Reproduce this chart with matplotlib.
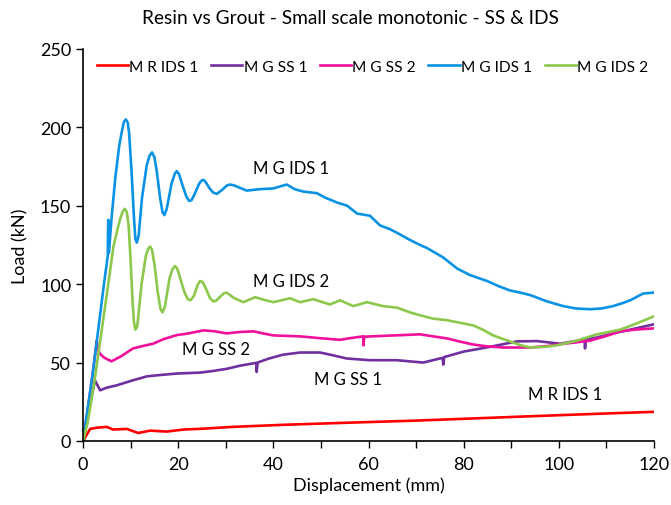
import matplotlib
matplotlib.use('Agg')
import matplotlib.pyplot as plt
from matplotlib.ticker import MultipleLocator

plt.rcParams['font.family'] = ['Lato', 'DejaVu Sans']

# 
# Series (displacement mm, load kN)
mr_ids1_x = [0, 1.5, 3, 5, 6.3, 9.2, 11.6, 14.1, 17.6, 21.1, 25, 31.5, 42, 54, 70, 90, 105, 120]
mr_ids1_y = [0, 7.7, 8.5, 9, 7.3, 7.7, 5.1, 6.6, 6, 7.3, 7.8, 9, 10.3, 11.5, 13, 15.3, 17, 18.6]

mg_ss1_x = [0, 1, 2.5, 3.6, 5, 7.1, 10.5, 13.4, 16, 19.7, 24.6, 27, 30.2, 33, 36.4, 36.5, 36.7, 39, 42,
            45.6, 49.8, 52, 55.4, 60.3, 65.9, 71.5, 75, 75.6, 75.7, 75.9, 80, 85.5, 91.2, 95.4, 100.3,
            103, 105.4, 105.5, 105.7, 108, 111.4, 115, 120]
mg_ss1_y = [0, 16, 38.7, 32.3, 34, 35.5, 38.7, 41.2, 42, 43, 43.6, 44.5, 46, 48, 49.8, 44, 50, 52.5, 55,
            56.4, 56.4, 55, 52.6, 51.5, 51.5, 50, 52.6, 53, 48.7, 53.5, 57, 60, 63.5, 63.7, 62,
            63.5, 64.3, 59, 64.8, 66, 68.6, 71, 74.4]

mg_ss2_x = [0, 1, 2, 2.9, 3.2, 3.6, 4.5, 6, 8, 10.5, 12.5, 14.7, 17, 19.7, 22, 25.3, 27.5, 30.2, 33,
            35.8, 38, 40, 45.6, 50, 54, 56, 58.9, 58.95, 59.1, 63, 67, 70.8, 74, 76.5, 79, 82, 85,
            88.3, 94, 97.5, 101, 104, 106.6, 110, 112.9, 116, 120]
mg_ss2_y = [0, 20, 42, 64, 58, 55.5, 53, 50.8, 54, 59, 60.5, 62, 65, 67.5, 68.5, 70.5, 70, 68.6, 69.5,
            69.9, 68.5, 67.3, 66.7, 65.5, 64.5, 65.5, 66.7, 61, 66.5, 67, 67.5, 68, 66.5, 65.4, 63.5,
            61.5, 60.3, 59.6, 59.6, 60.5, 62, 63, 64, 67, 69.9, 71, 71.8]

mg_ids1_x = [0, 2, 4.4, 5.2, 5.3, 5.45, 6.0, 6.8, 7.6, 8.2, 8.6, 9.0, 9.4, 9.7, 10.2, 10.7, 11.0,
             11.3, 11.7, 12.4, 13.4, 14.0, 14.5, 15.0, 15.5, 16.2, 16.7, 17.1, 17.6, 18.6, 19.3,
             19.7, 20.2, 20.8, 21.7, 22.3, 22.8, 23.4, 24.4, 24.9, 25.3, 25.8, 26.5, 27.3, 28.1,
             29.2, 30.2, 30.9, 31.7, 32.5, 34.4, 37, 40, 42.8, 44.5, 46.3, 49.1, 51, 53.4,
             55.5, 57.6, 60.3, 62.4, 64.5, 66, 68.5, 70.8, 72.3, 75.7, 78.6, 81.3, 84.9, 87.5,
             89.7, 92, 94, 97.5, 100.9, 103.5, 106.6, 109, 111.4, 113.5, 115, 117.7, 120]
mg_ids1_y = [0, 42, 100, 118, 141, 120, 142, 168, 188, 198, 203.5, 205, 203, 196, 172, 143, 129,
             126.5, 131, 155, 176, 182, 184, 181, 172, 155, 146, 144, 148, 164, 170.5,
             172, 170, 164, 156, 153, 153.5, 157, 164, 166, 166.5, 165, 161.5, 158.5, 157.5,
             160, 162.8, 163.5, 163, 162, 159.6, 160.5, 161, 163.5, 160.5, 159, 158, 155, 152,
             150, 145, 143.6, 137.5, 135, 132.7, 128.5, 125, 123, 117, 110, 105.8, 102, 98.5,
             96, 94.5, 93, 89, 86, 84.5, 84, 84.5, 86, 88, 89.7, 94, 94.6]

mg_ids2_x = [0, 1, 2.5, 4, 5.3, 6.4, 7.4, 7.9, 8.4, 8.8, 9.2, 9.6, 10, 10.4, 10.7, 11.0, 11.4,
             12.3, 13.2, 13.7, 14.1, 14.5, 15.0, 15.7, 16.3, 16.7, 17.2, 18.2, 18.8, 19.3, 19.8,
             20.5, 21.3, 22.0, 22.6, 23.3, 24.1, 24.6, 25.1, 25.7, 26.7, 27.4, 28.0, 29, 29.7,
             30.2, 31.8, 33.7, 36.2, 38, 40, 43.5, 45.6, 48.4, 51.9, 54, 56.8, 59.7, 63, 66, 68.7,
             71, 73.6, 76.5, 79, 82, 84, 86.2, 89.7, 92, 94, 97, 99.6, 103.8, 108, 112.9, 116.4, 120]
mg_ids2_y = [0, 12, 40, 72, 100, 124, 137, 142.5, 146.5, 148, 146, 137, 115, 90, 76, 71, 73,
             100, 118, 122.5, 124, 122, 113, 95, 84, 82, 85.5, 104, 109.5, 111.5, 110,
             103, 95, 90.5, 89.7, 92.5, 99.5, 102, 101.5, 98, 91, 89, 89.5, 92.5, 94.3,
             94.6, 91, 88.5, 91.7, 90, 88.5, 91, 88.5, 90.4, 87, 89.7, 86, 88.5, 86, 85, 82,
             80, 78, 77, 75.5, 73.7, 71, 67.3, 63.5, 61, 59.6, 60, 61, 64, 68, 71, 75, 79.5]

series_names = ['M R IDS 1', 'M G SS 1', 'M G SS 2', 'M G IDS 1', 'M G IDS 2']
series_colors = ['#FF0000', '#7030A0', '#F0109C', '#0A93E4', '#8CC84B']

# 
# Figure
fig = plt.figure(figsize=(6.71, 5.06), dpi=100)
ax = fig.add_axes([0.1237, 0.1265, 0.851, 0.775])

data = [(mr_ids1_x, mr_ids1_y), (mg_ss1_x, mg_ss1_y), (mg_ss2_x, mg_ss2_y),
        (mg_ids1_x, mg_ids1_y), (mg_ids2_x, mg_ids2_y)]
for (xs, ys), name, col in zip(data, series_names, series_colors):
    ax.plot(xs, ys, color=col, lw=1.9, label=name, solid_joinstyle='round')

ax.set_xlim(0, 120)
ax.set_ylim(0, 250)
ax.xaxis.set_major_locator(MultipleLocator(20))
ax.xaxis.set_minor_locator(MultipleLocator(10))
ax.yaxis.set_major_locator(MultipleLocator(50))
ax.tick_params(axis='both', which='both', direction='out', length=5, width=1, labelsize=13, color='black')
ax.tick_params(axis='x', pad=6)
for s in ['top', 'right']:
    ax.spines[s].set_visible(False)
for s in ['left', 'bottom']:
    ax.spines[s].set_linewidth(1.2)

ax.set_xlabel('Displacement (mm)', fontsize=13, labelpad=3)
ax.set_ylabel('Load (kN)', fontsize=13, labelpad=8)

# inline labels
ax.text(43.7, 174, 'M G IDS 1', fontsize=12, ha='center', va='center')
ax.text(43.7, 102, 'M G IDS 2', fontsize=12, ha='center', va='center')
ax.text(27.9, 58.5, 'M G SS 2', fontsize=12, ha='center', va='center')
ax.text(55.7, 39.7, 'M G SS 1', fontsize=12, ha='center', va='center')
ax.text(101.4, 30, 'M R IDS 1', fontsize=12, ha='center', va='center')

ax.legend(loc='upper center', bbox_to_anchor=(0.507, 1.0), ncol=5, frameon=False, fontsize=11.2,
          handlelength=2.0, handletextpad=0.1, columnspacing=0.8, borderaxespad=0.3)

fig.text(0.523, 0.964, 'Resin vs Grout - Small scale monotonic - SS & IDS', fontsize=13.8,
         ha='center', va='center')

fig.savefig('out.png', dpi=100)
